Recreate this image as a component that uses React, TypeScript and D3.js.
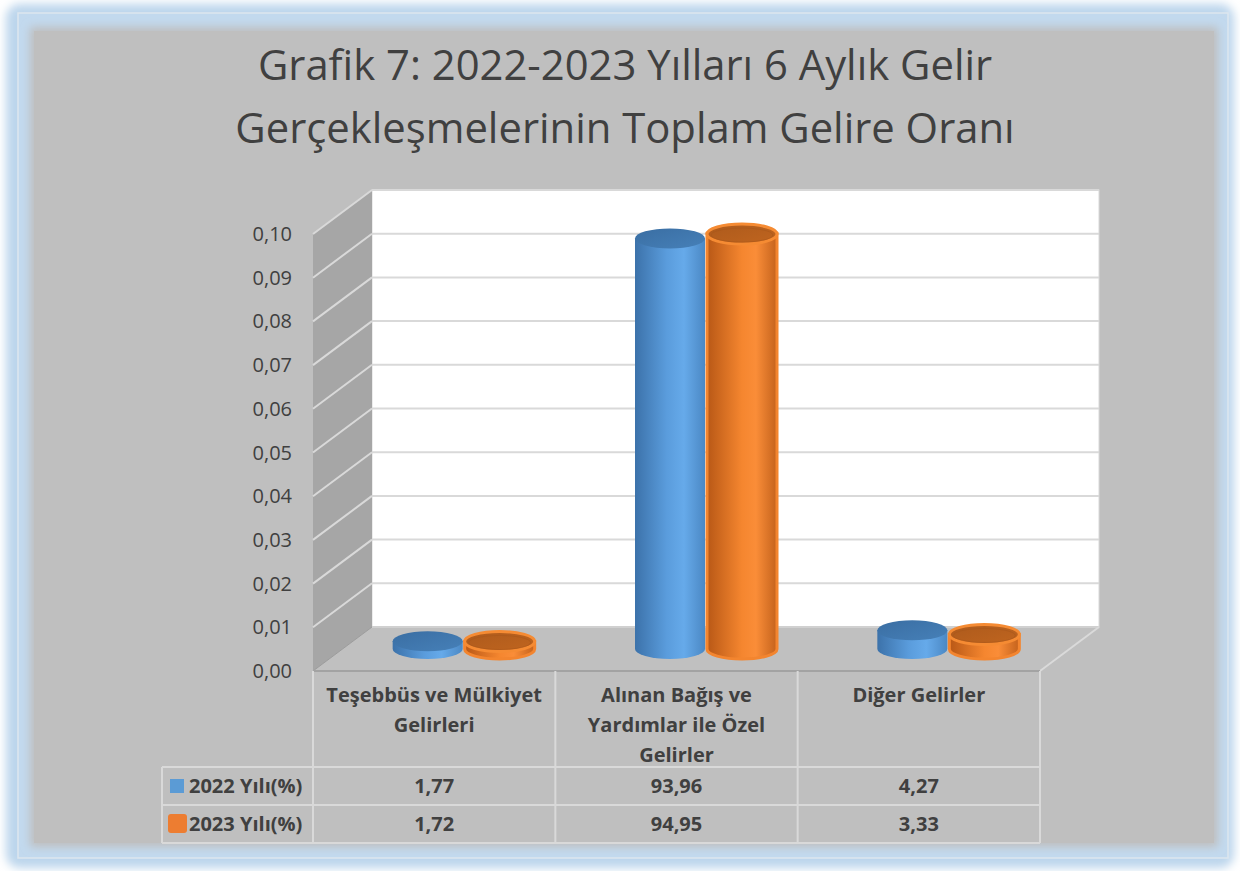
import React from "react";
import * as d3 from "d3";

const titleLines = ["Grafik 7: 2022-2023 Yılları 6 Aylık Gelir", "Gerçekleşmelerinin Toplam Gelire Oranı"];
const categories = ["Teşebbüs ve Mülkiyet Gelirleri", "Alınan Bağış ve Yardımlar ile Özel Gelirler", "Diğer Gelirler"];
const categoryLines = [["Teşebbüs ve Mülkiyet", "Gelirleri"], ["Alınan Bağış ve", "Yardımlar ile Özel", "Gelirler"], ["Diğer Gelirler"]];
const seriesNames = ["2022 Yılı(%)", "2023 Yılı(%)"];
const values2022 = [1.77, 93.96, 4.27];
const values2023 = [1.72, 94.95, 3.33];
const valueLabels2022 = ["1,77", "93,96", "4,27"];
const valueLabels2023 = ["1,72", "94,95", "3,33"];
const tickValues = [0, 10, 20, 30, 40, 50, 60, 70, 80, 90, 100];
const tickLabels = ["0,00", "0,01", "0,02", "0,03", "0,04", "0,05", "0,06", "0,07", "0,08", "0,09", "0,10"];

const FONT = "'Open Sans', sans-serif";
const TXT = "#404040";

export default function App() {
  const W = 1240, H = 871;
  // front plane of plot
  const x0 = 313, x1 = 1040;
  const depthX = 59, depthY = -44;
  const y = d3.scaleLinear().domain([0, 100]).range([671, 234]);
  const xBand = d3.scaleBand<string>().domain(categories).range([x0, x1]);
  const xSeries = d3.scaleBand<string>().domain(seriesNames).range([-72, 72]);
  const tableTop = y(0);
  const rowLines = [767, 805, 843];
  const colLines = [x0, ...categories.map(c => (xBand(c) as number) + xBand.bandwidth())];

  const series = [
    { name: seriesNames[0], values: values2022, labels: valueLabels2022, kind: "blue" },
    { name: seriesNames[1], values: values2023, labels: valueLabels2023, kind: "orange" },
  ];

  const rx = 35, ry = 10;
  const cyl = (cx: number, v: number, kind: string, key: string) => {
    const yb = y(0) + depthY / 2;
    const yt = y(v) + depthY / 2;
    const body = `M${cx - rx},${yt} L${cx - rx},${yb} A${rx},${ry} 0 0 0 ${cx + rx},${yb} L${cx + rx},${yt} Z`;
    if (kind === "blue") {
      return (
        <g key={key}>
          <path d={body} fill="url(#gBlue)" />
          <ellipse cx={cx} cy={yt} rx={rx} ry={ry} fill="url(#gBlueTop)" />
        </g>
      );
    }
    return (
      <g key={key}>
        <path d={body} fill="url(#gOrange)" stroke="#f3852f" strokeWidth={3} />
        <ellipse cx={cx} cy={yt} rx={rx} ry={ry} fill="url(#gOrangeTop)" stroke="#f58b33" strokeWidth={3} />
        <ellipse cx={cx} cy={yt + 1} rx={rx - 4} ry={ry - 3} fill="none" stroke="#a9561a" strokeWidth={1} opacity={0.6} />
      </g>
    );
  };

  return (
    <svg width={W} height={H} style={{ position: "absolute", left: 0, top: 0 }} fontFamily={FONT}>
      <defs>
        <filter id="glow" x="-5%" y="-5%" width="110%" height="110%">
          <feGaussianBlur stdDeviation="5" />
        </filter>
        <filter id="soft" x="-5%" y="-5%" width="110%" height="110%">
          <feGaussianBlur stdDeviation="4" />
        </filter>
        <linearGradient id="gBlue" x1="0" x2="1" y1="0" y2="0">
          <stop offset="0" stopColor="#3c72aa" />
          <stop offset="0.45" stopColor="#5a9cdc" />
          <stop offset="0.7" stopColor="#66aaea" />
          <stop offset="1" stopColor="#4b88c4" />
        </linearGradient>
        <linearGradient id="gBlueTop" x1="0" x2="1" y1="0" y2="1">
          <stop offset="0" stopColor="#3a6ea3" />
          <stop offset="1" stopColor="#4680b8" />
        </linearGradient>
        <linearGradient id="gOrange" x1="0" x2="1" y1="0" y2="0">
          <stop offset="0" stopColor="#b85816" />
          <stop offset="0.5" stopColor="#f5862f" />
          <stop offset="0.7" stopColor="#fa8d38" />
          <stop offset="1" stopColor="#c4621c" />
        </linearGradient>
        <linearGradient id="gOrangeTop" x1="0" x2="1" y1="0" y2="1">
          <stop offset="0" stopColor="#ad5a1c" />
          <stop offset="1" stopColor="#c0651f" />
        </linearGradient>
      </defs>

      {/* frame */}
      <rect x={6} y={4} width={1228} height={864} rx={14} fill="#bcd5ec" filter="url(#glow)" />
      <rect x={18} y={13} width={1210} height={845} fill="#c2d9ee" stroke="#dde6ee" strokeWidth={1.5} />
      <rect x={30} y={27} width={1188} height={820} fill="#bfbfbf" filter="url(#soft)" />
      <rect x={34} y={31} width={1180} height={812} fill="#bfbfbf" />

      {/* title */}
      {titleLines.map((t, i) => (
        <text key={t} x={625} y={80 + i * 63} textAnchor="middle" fontSize={41.8} fill={TXT}>{t}</text>
      ))}

      {/* back wall */}
      <rect x={x0 + depthX} y={y(100) + depthY} width={x1 - x0} height={y(0) - y(100)} fill="#ffffff" stroke="#d9d9d9" strokeWidth={1} />
      {tickValues.filter(t => t > 0).map(t => (
        <line key={"g" + t} x1={x0 + depthX} x2={x1 + depthX} y1={y(t) + depthY} y2={y(t) + depthY} stroke="#d9d9d9" strokeWidth={2} />
      ))}

      {/* side wall */}
      <polygon
        points={`${x0},${y(100)} ${x0 + depthX},${y(100) + depthY} ${x0 + depthX},${y(0) + depthY} ${x0},${y(0)}`}
        fill="#a6a6a6"
      />
      {tickValues.filter(t => t > 0).map(t => (
        <line key={"s" + t} x1={x0} y1={y(t)} x2={x0 + depthX} y2={y(t) + depthY} stroke="#d9d9d9" strokeWidth={2} />
      ))}

      {/* floor */}
      <polygon
        points={`${x0},${y(0)} ${x0 + depthX},${y(0) + depthY} ${x1 + depthX},${y(0) + depthY} ${x1},${y(0)}`}
        fill="#c0c0c0"
      />
      <line x1={x0 + depthX} y1={y(0) + depthY} x2={x1 + depthX} y2={y(0) + depthY} stroke="#d0d0d0" strokeWidth={2} />
      <line x1={x1 + depthX} y1={y(0) + depthY} x2={x1} y2={y(0)} stroke="#dadada" strokeWidth={2} />
      <line x1={x0} y1={y(0)} x2={x0 + depthX} y2={y(0) + depthY} stroke="#9c9c9c" strokeWidth={1} />

      {/* y labels */}
      {tickValues.map((t, i) => (
        <text key={"t" + t} x={292} y={y(t)} dy="0.35em" textAnchor="end" fontSize={20} fill={TXT}>{tickLabels[i]}</text>
      ))}

      {/* cylinders */}
      {categories.map((c, ci) =>
        series.map(s => {
          const cx = (xBand(c) as number) + xBand.bandwidth() / 2 + depthX / 2 + (xSeries(s.name) as number) + xSeries.bandwidth() / 2;
          return cyl(cx, s.values[ci], s.kind, c + s.name);
        })
      )}

      {/* data table */}
      <line x1={x0} x2={x1} y1={tableTop} y2={tableTop} stroke="#a3a3a3" strokeWidth={2} />
      {colLines.map((cx, i) => (
        <line key={"c" + i} x1={cx} x2={cx} y1={tableTop} y2={rowLines[2]} stroke="#d9d9d9" strokeWidth={2} />
      ))}
      <line x1={162} x2={162} y1={rowLines[0]} y2={rowLines[2]} stroke="#d9d9d9" strokeWidth={2} />
      {rowLines.map((ry2, i) => (
        <line key={"r" + i} x1={162} x2={x1} y1={ry2} y2={ry2} stroke="#d9d9d9" strokeWidth={2} />
      ))}
      {categories.map((c, ci) => (
        <text key={"h" + c} x={(xBand(c) as number) + xBand.bandwidth() / 2} textAnchor="middle" fontSize={20} fontWeight="bold" fill={TXT}>
          {categoryLines[ci].map((ln, li) => (
            <tspan key={li} x={(xBand(c) as number) + xBand.bandwidth() / 2} y={702 + li * 30}>{ln}</tspan>
          ))}
        </text>
      ))}
      {series.map((s, si) => {
        const rowMid = (rowLines[si] + rowLines[si + 1]) / 2;
        return (
          <g key={"row" + s.name}>
            {s.kind === "blue"
              ? <rect x={170} y={rowMid - 7} width={14} height={14} fill="#5b9bd5" />
              : <rect x={168} y={rowMid - 10} width={19} height={19} rx={3} fill="#ed7d31" />}
            <text x={189} y={rowMid} dy="0.35em" fontSize={20} fontWeight="bold" fill={TXT}>{s.name}</text>
            {categories.map((c, ci) => (
              <text key={c} x={(xBand(c) as number) + xBand.bandwidth() / 2} y={rowMid} dy="0.35em" textAnchor="middle" fontSize={20} fontWeight="bold" fill={TXT}>
                {s.labels[ci]}
              </text>
            ))}
          </g>
        );
      })}
    </svg>
  );
}
